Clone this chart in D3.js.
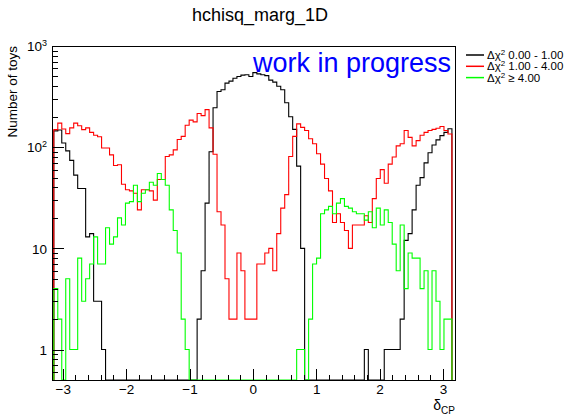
<!DOCTYPE html>
<html>
<head>
<meta charset="utf-8">
<script src="https://cdn.jsdelivr.net/npm/d3@7.9.0/dist/d3.min.js"></script>
<style>
  body { margin: 0; background: #fff; }
  svg { display: block; font-family: 'Liberation Sans', Arial, sans-serif; }
</style>
</head>
<body>
<svg id="chart" width="568" height="417"></svg>
<script>
// 100 bins of delta_CP from -pi to pi, counts per bin
const chi2Low = [
  145, 148, 110, 92, 74, 53, 39, 39, 13, 14,
  3, 3, 1, 0, 0, 0, 0, 0, 0, 0,
  0, 0, 0, 0, 0, 0, 0, 0, 0, 0,
  0, 0, 0, 0, 0, 0, 2, 6, 28, 90,
  245, 355, 370, 430, 450, 480, 500, 515, 520, 500,
  545, 530, 520, 510, 460, 440, 400, 370, 275, 200,
  150, 65, 10, 0, 0, 0, 0, 0, 0, 0,
  0, 0, 0, 0, 0, 0, 0, 0, 1, 0,
  0, 0, 0, 1, 1, 1, 1, 2, 12, 14,
  24, 42, 50, 70, 88, 105, 118, 130, 140, 152
];
const chi2Mid = [
  149, 173, 151, 136, 155, 173, 163, 149, 155, 140,
  131, 127, 98, 98, 84, 66, 67, 43, 38, 37,
  35, 24, 38, 38, 37, 30, 48, 48, 81, 84,
  94, 119, 128, 165, 185, 178, 215, 205, 235, 155,
  85, 23, 17, 5, 2, 2, 9, 6, 2, 2,
  2, 7, 7, 9, 10, 6, 14, 25, 34, 81,
  128, 170, 157, 146, 121, 108, 86, 68, 49, 37,
  18, 22, 18, 15, 10, 17, 17, 17, 21, 18,
  31, 49, 60, 44, 68, 80, 103, 108, 146, 125,
  103, 116, 131, 140, 146, 150, 154, 160, 146, 135
];
const chi2High = [
  4, 2, 0, 5, 1, 1, 8, 3, 5, 7,
  13, 7, 7, 16, 11, 13, 20, 17, 28, 29,
  42, 29, 35, 38, 45, 42, 55, 48, 42, 24,
  15, 9, 2, 1, 0, 0, 0, 0, 0, 0,
  0, 0, 0, 0, 0, 0, 0, 0, 0, 0,
  0, 0, 0, 0, 0, 0, 0, 0, 0, 0,
  0, 1, 1, 0, 2, 7, 8, 22, 24, 26,
  22, 28, 31, 26, 25, 23, 22, 22, 19, 23,
  16, 25, 17, 24, 18, 11, 6, 17, 4, 9,
  8, 8, 4, 6, 1, 6, 3, 1, 2, 2
];

const xTicks = [-3, -2, -1, 0, 1, 2, 3];
const yTicks = [1, 10, 100, 1000];
const yTickLabels = [['1', ''], ['10', ''], ['10', '2'], ['10', '3']];
const legendLabels = ['0.00 - 1.00', '1.00 - 4.00', '\u2265 4.00'];
const seriesColors = ['#000000', '#ff0000', '#00ff00'];

const svg = d3.select('#chart');
const frame = { left: 52, right: 455, top: 46, bottom: 380 };

const xDomain = [-3.17, 3.19];
const x = d3.scaleLinear().domain(xDomain).range([frame.left, frame.right]);
const y = d3.scaleLog().domain([0.5, 1000]).range([frame.bottom, frame.top]);

const nBins = chi2Low.length;
const edges = d3.range(nBins + 1).map((i) => -Math.PI + (2 * Math.PI * i) / nBins);

function stepPoints(counts) {
  const pts = [[edges[0], 0]];
  counts.forEach((c, i) => {
    pts.push([edges[i], c]);
    pts.push([edges[i + 1], c]);
  });
  pts.push([edges[nBins], 0]);
  return pts;
}

const line = d3
  .line()
  .x((d) => x(d[0]))
  .y((d) => (d[1] > 0 ? y(d[1]) : frame.bottom));

// histograms, drawn in ROOT order
[chi2Low, chi2Mid, chi2High].forEach((counts, k) => {
  svg
    .append('path')
    .attr('d', line(stepPoints(counts)))
    .attr('fill', 'none')
    .attr('stroke', seriesColors[k])
    .attr('stroke-width', 1.1);
});

// frame
svg
  .append('rect')
  .attr('x', frame.left)
  .attr('y', frame.top)
  .attr('width', frame.right - frame.left)
  .attr('height', frame.bottom - frame.top)
  .attr('fill', 'none')
  .attr('stroke', '#000')
  .attr('shape-rendering', 'crispEdges');

// x axis
const xMinor = d3
  .range(-16, 17)
  .map((k) => k / 5)
  .filter((v) => v > xDomain[0] && v < xDomain[1]);
svg
  .append('g')
  .attr('transform', `translate(0,${frame.bottom})`)
  .call(d3.axisBottom(x).tickValues(xMinor).tickSize(-5.5).tickFormat(''))
  .call((g) => g.select('.domain').remove());
svg
  .append('g')
  .attr('class', 'x-axis')
  .attr('transform', `translate(0,${frame.bottom})`)
  .call(d3.axisBottom(x).tickValues(xTicks).tickSize(-11).tickPadding(4).tickFormat(d3.format('d')))
  .call((g) => g.select('.domain').remove())
  .call((g) => g.selectAll('text').attr('font-size', 13.5).attr('fill', '#000'));

// y axis
const yMinor = [];
[0.1, 1, 10, 100].forEach((dec) => {
  d3.range(2, 10).forEach((m) => {
    const v = dec * m;
    if (v > 0.5 && v < 1000) yMinor.push(v);
  });
});
svg
  .append('g')
  .attr('transform', `translate(${frame.left},0)`)
  .call(d3.axisLeft(y).tickValues(yMinor).tickSize(-6).tickFormat(''))
  .call((g) => g.select('.domain').remove());
const yAxis = svg
  .append('g')
  .attr('transform', `translate(${frame.left},0)`)
  .call(d3.axisLeft(y).tickValues(yTicks).tickSize(-12).tickPadding(6).tickFormat(''))
  .call((g) => g.select('.domain').remove());
yAxis.selectAll('.tick').each(function (d, i) {
  const t = d3
    .select(this)
    .append('text')
    .attr('x', -5)
    .attr('dy', '0.35em')
    .attr('text-anchor', 'end')
    .attr('font-size', 13.5)
    .attr('fill', '#000');
  t.append('tspan').text(yTickLabels[i][0]);
  if (yTickLabels[i][1]) {
    t.append('tspan').attr('dy', '-0.55em').attr('font-size', 9).text(yTickLabels[i][1]);
  }
});
svg.selectAll('.tick line').attr('stroke', '#000').attr('shape-rendering', 'crispEdges');

// titles
svg
  .append('text')
  .attr('x', 260)
  .attr('y', 21)
  .attr('text-anchor', 'middle')
  .attr('font-size', 18)
  .text('hchisq_marg_1D');

svg
  .append('text')
  .attr('transform', `translate(17,${frame.top}) rotate(-90)`)
  .attr('text-anchor', 'end')
  .attr('font-size', 13.5)
  .text('Number of toys');

const xTitle = svg
  .append('text')
  .attr('x', 455)
  .attr('y', 410)
  .attr('text-anchor', 'end')
  .attr('font-size', 14);
xTitle.append('tspan').text('\u03b4');
xTitle.append('tspan').attr('dy', 4).attr('font-size', 10).text('CP');

svg
  .append('text')
  .attr('x', 451)
  .attr('y', 72)
  .attr('text-anchor', 'end')
  .attr('font-size', 27)
  .attr('fill', '#0000ff')
  .text('work in progress');

// legend
const legend = svg.append('g').attr('transform', 'translate(466,55)');
legendLabels.forEach((label, i) => {
  const row = legend.append('g').attr('transform', `translate(0,${i * 11.3})`);
  row
    .append('line')
    .attr('x1', 0)
    .attr('x2', 18)
    .attr('stroke', seriesColors[i])
    .attr('stroke-width', 1.5);
  const t = row.append('text').attr('x', 21).attr('y', 4).attr('font-size', 11.5);
  t.append('tspan').text('\u0394\u03c7');
  t.append('tspan').attr('dy', -4).attr('font-size', 8).text('2');
  t.append('tspan').attr('dy', 4).text(' ' + label);
});
</script>
</body>
</html>
